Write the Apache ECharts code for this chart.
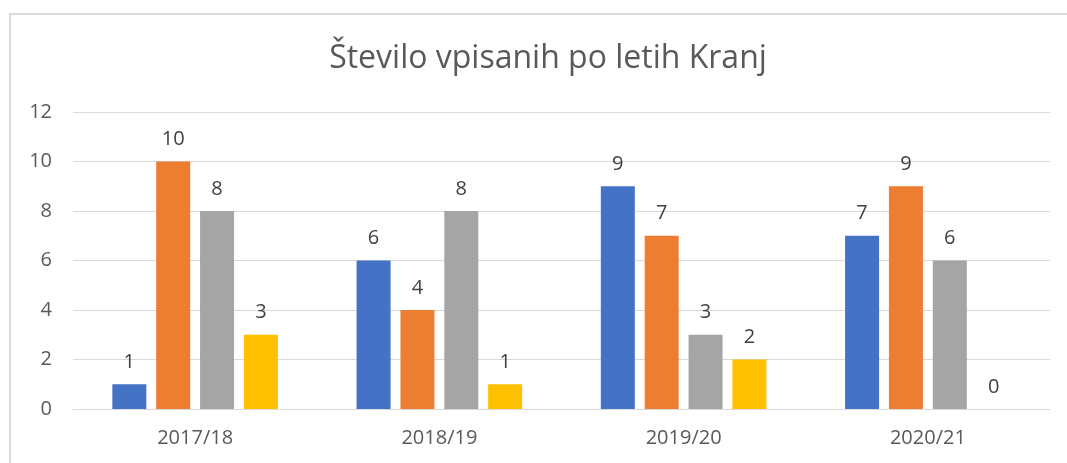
<!DOCTYPE html>
<html>
<head>
<meta charset="utf-8">
<script src="https://cdn.jsdelivr.net/npm/echarts@6/dist/echarts.min.js"></script>
<style>
  html, body { margin: 0; padding: 0; background: #fff; }
  #frame {
    position: absolute; left: 9px; top: 13px;
    width: 1100px; height: 500px;
    border: 2px solid #d9d9d9; box-sizing: border-box;
  }
  #chart { position: absolute; left: 0; top: 0; width: 1067px; height: 463px; }
</style>
</head>
<body>
<div id="frame"></div>
<div id="chart"></div>
<script>
const categories = ["2017/18", "2018/19", "2019/20", "2020/21"];
const seriesA = [1, 6, 9, 7];
const seriesB = [10, 4, 7, 9];
const seriesC = [8, 8, 3, 6];
const seriesD = [3, 1, 2, 0];
const yTicks = { min: 0, max: 12, interval: 2 };

const colors = ["#4472C4", "#ED7D31", "#A5A5A5", "#FFC000"];
const font = "'Open Sans', 'Noto Sans', sans-serif";

const chart = echarts.init(document.getElementById("chart"));
chart.setOption({
  animation: false,
  title: {
    text: "Število vpisanih po letih Kranj",
    left: 543,
    textAlign: "center",
    top: 38,
    textStyle: { color: "#595959", fontSize: 32, fontWeight: "normal", fontFamily: font },
  },
  grid: { left: 73, right: 17, top: 112, bottom: 54 },
  xAxis: {
    type: "category",
    data: categories,
    axisLine: { show: true, lineStyle: { color: "#d9d9d9", width: 1 } },
    axisTick: { show: false },
    axisLabel: { color: "#595959", fontSize: 20, fontFamily: font, margin: 19 },
  },
  yAxis: {
    type: "value",
    min: yTicks.min,
    max: yTicks.max,
    interval: yTicks.interval,
    axisLine: { show: false },
    axisTick: { show: false },
    axisLabel: { color: "#595959", fontSize: 20, fontFamily: font, margin: 21 },
    splitLine: { lineStyle: { color: "#d9d9d9", width: 1 } },
  },
  series: [seriesA, seriesB, seriesC, seriesD].map((d, i) => ({
    type: "bar",
    data: d,
    barWidth: 34,
    barGap: "29%",
    itemStyle: { color: colors[i] },
    label: {
      show: true,
      position: "top",
      distance: 12,
      color: "#404040",
      fontSize: 20,
      fontFamily: font,
    },
  })),
});
</script>
</body>
</html>
